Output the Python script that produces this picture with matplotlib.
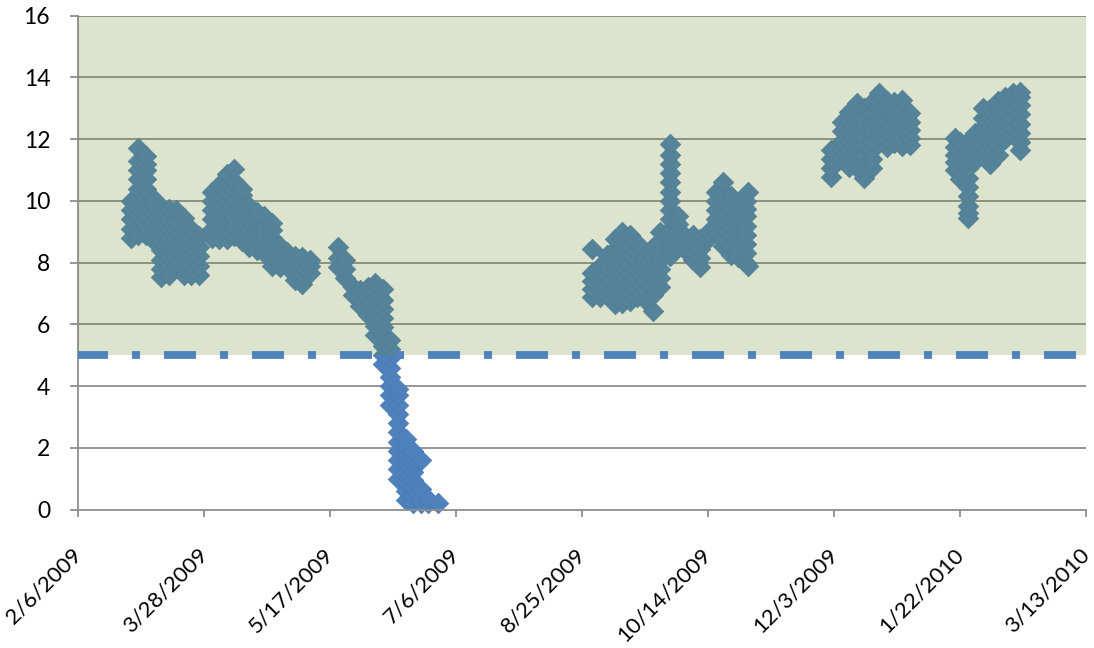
import numpy as np
import matplotlib
matplotlib.use("Agg")
import matplotlib.pyplot as plt

# ---- data -------------------------------------------------------------
obs_dates = [
    # Feb - May 2009
    "2009-02-27", "2009-03-02", "2009-03-05", "2009-03-08", "2009-03-11",
    "2009-03-14", "2009-03-17", "2009-03-20", "2009-03-23", "2009-03-26",
    "2009-03-31", "2009-04-03", "2009-04-06", "2009-04-09", "2009-04-12",
    "2009-04-15", "2009-04-18", "2009-04-21", "2009-04-24", "2009-04-27",
    "2009-04-30", "2009-05-03", "2009-05-06", "2009-05-09",
    # May - Jun 2009
    "2009-05-20", "2009-05-23", "2009-05-26", "2009-05-29", "2009-06-01",
    "2009-06-04", "2009-06-07", "2009-06-10", "2009-06-13", "2009-06-16",
    "2009-06-19", "2009-06-22", "2009-06-25", "2009-06-29",
    # Aug - Oct 2009
    "2009-08-29", "2009-09-01", "2009-09-04", "2009-09-07", "2009-09-10",
    "2009-09-13", "2009-09-16", "2009-09-19", "2009-09-22", "2009-09-25",
    "2009-09-29", "2009-10-02", "2009-10-05", "2009-10-08", "2009-10-11",
    "2009-10-14", "2009-10-17", "2009-10-20", "2009-10-23", "2009-10-26",
    "2009-10-29", "2009-10-30",
    # Dec 2009
    "2009-12-02", "2009-12-06", "2009-12-09", "2009-12-12", "2009-12-15",
    "2009-12-18", "2009-12-21", "2009-12-24", "2009-12-27", "2009-12-30",
    "2010-01-02",
    # Jan - Feb 2010
    "2010-01-20", "2010-01-22", "2010-01-25", "2010-01-28", "2010-01-31",
    "2010-02-03", "2010-02-06", "2010-02-09", "2010-02-12", "2010-02-15",
]

obs_values = [
    # Feb - May 2009
    [8.8, 9.1, 9.4, 9.7, 10.0],
    [8.9, 9.2, 9.5, 9.8, 10.1, 10.4, 10.7, 11.0, 11.3, 11.7],
    [8.9, 9.2, 9.5, 9.8, 10.1, 10.4, 10.7, 11.0, 11.2, 11.45],
    [8.7, 9.0, 9.3, 9.6, 9.9, 10.05],
    [7.52, 7.8, 8.1, 8.4, 8.7, 9.0, 9.3, 9.6, 9.8],
    [7.6, 7.9, 8.2, 8.5, 8.8, 9.1, 9.4, 9.75],
    [7.85, 8.15, 8.45, 8.75, 9.05, 9.35, 9.7],
    [7.6, 7.9, 8.2, 8.5, 8.8, 9.1, 9.45],
    [7.6, 7.9, 8.2, 8.5, 8.8, 9.1],
    [7.6, 7.9, 8.2, 8.5, 8.85],
    [8.8, 9.1, 9.4, 9.7, 10.0, 10.28],
    [8.75, 9.05, 9.35, 9.65, 9.95, 10.25, 10.5],
    [8.75, 9.05, 9.35, 9.65, 9.95, 10.25, 10.55, 10.86],
    [8.85, 9.15, 9.45, 9.75, 10.05, 10.35, 10.65, 11.02],
    [8.7, 9.0, 9.3, 9.6, 9.9, 10.2, 10.4],
    [8.5, 8.8, 9.1, 9.4, 9.65, 9.85],
    [8.4, 8.7, 9.0, 9.3, 9.65],
    [8.3, 8.6, 8.9, 9.2, 9.5],
    [7.9, 8.2, 8.5, 8.8, 9.05, 9.27],
    [7.85, 8.15, 8.55],
    [7.85, 8.1, 8.35],
    [7.45, 7.75, 8.0, 8.23],
    [7.32, 7.6, 7.9, 8.17],
    [7.66, 7.9, 8.08],
    # May - Jun 2009
    [7.85, 8.15, 8.5],
    [7.5, 7.8, 8.1],
    [6.95, 7.2],
    [6.6, 6.85, 7.1],
    [6.3, 6.6, 6.9, 7.2],
    [5.65, 5.95, 6.25, 6.55, 6.85, 7.1, 7.35],
    [4.7, 5.0, 5.3, 5.6, 5.9, 6.2, 6.5, 6.8, 7.15],
    [3.4, 3.7, 4.0, 4.3, 4.6, 4.9, 5.2, 5.5],
    [1.0, 1.3, 1.6, 1.9, 2.2, 2.5, 2.8, 3.1, 3.4, 3.7, 3.9],
    [0.3, 0.6, 0.9, 1.2, 1.5, 1.8, 2.05, 2.3],
    [0.2, 0.45, 0.7, 0.95, 1.2, 1.45, 1.7, 1.9],
    [0.2, 0.4, 0.65, 1.6],
    [0.2, 0.35],
    [0.22],
    # Aug - Oct 2009
    [6.9, 7.15, 7.4, 7.65, 8.43],
    [6.9, 7.2, 7.5, 7.75, 7.9],
    [6.95, 7.25, 7.55, 7.85, 8.25],
    [6.65, 6.95, 7.25, 7.55, 7.85, 8.15, 8.45, 8.75],
    [6.7, 7.0, 7.3, 7.6, 7.9, 8.2, 8.5, 8.75, 8.98],
    [6.77, 7.05, 7.35, 7.65, 7.95, 8.25, 8.55, 8.88],
    [6.87, 7.15, 7.45, 7.75, 8.05, 8.35, 8.65],
    [6.8, 7.1, 7.4, 7.7, 8.0, 8.15],
    [6.44, 6.95, 7.25, 7.55, 7.85, 8.15, 8.5],
    [7.2, 7.5, 7.8, 8.1, 8.4, 8.7, 9.0],
    [8.2, 8.5, 8.8, 9.1, 9.4, 9.7, 10.0, 10.3, 10.6, 10.9, 11.2, 11.5, 11.83],
    [8.72, 9.0, 9.25, 9.5],
    [8.4, 8.6, 8.85],
    [8.1, 8.35, 8.6, 8.9],
    [7.85, 8.15, 8.45, 8.75],
    [8.75, 9.0],
    [8.95, 9.1, 9.4, 9.7, 10.0, 10.28],
    [8.55, 8.8, 9.1, 9.4, 9.7, 10.0, 10.3, 10.6],
    [8.25, 8.55, 8.85, 9.15, 9.45, 9.75, 10.15],
    [8.17, 8.45, 8.75, 9.05, 9.35, 9.72],
    [8.0, 8.3, 8.6, 8.9, 9.2, 9.5, 9.75, 10.0],
    [7.9, 10.3],
    # Dec 2009
    [10.76, 11.05, 11.35, 11.65],
    [11.4, 11.65, 11.95, 12.25, 12.55],
    [11.1, 11.35, 11.65, 11.95, 12.25, 12.55, 12.87],
    [11.05, 11.35, 11.65, 11.95, 12.25, 12.55, 12.85, 13.17],
    [10.73, 10.95, 11.2, 11.5, 11.8, 12.1, 12.4, 12.7, 13.0],
    [11.05, 11.35, 11.65, 11.95, 12.25, 12.55, 12.85, 13.2],
    [12.1, 12.4, 12.7, 13.0, 13.25, 13.49],
    [11.74, 12.0, 12.3, 12.6, 12.9, 13.23],
    [11.87, 12.15, 12.45, 12.75, 13.0, 13.2],
    [11.77, 12.05, 12.35, 12.65, 12.95, 13.26],
    [11.8, 12.05, 12.3, 12.55, 12.85],
    # Jan - Feb 2010
    [11.0, 11.25, 11.5, 11.75, 12.03],
    [10.7, 11.0, 11.3, 11.6, 11.9],
    [9.43, 9.6, 9.85, 10.15, 10.45, 10.75, 11.05, 11.35, 11.65, 11.95],
    [11.3, 11.6, 11.9, 12.2],
    [11.5, 11.8, 12.1, 12.4, 12.7, 13.0],
    [11.2, 11.5, 11.8, 12.1, 12.4, 12.7, 12.97],
    [11.5, 11.8, 12.1, 12.4, 12.7, 13.0, 13.23],
    [12.0, 12.3, 12.6, 12.9, 13.15, 13.36],
    [12.13, 12.4, 12.7, 13.0, 13.25, 13.49],
    [11.64, 11.9, 12.2, 12.5, 12.8, 13.1, 13.35, 13.52],
]

threshold = 5
x_start = "2009-02-06"
x_end = "2010-03-13"
tick_step_days = 50
y_ticks = [0, 2, 4, 6, 8, 10, 12, 14, 16]

# ---- styling ----------------------------------------------------------
plt.rcParams["font.family"] = ["Lato", "DejaVu Sans"]
plt.rcParams["lines.scale_dashes"] = False

W, H = 1094, 648
fig = plt.figure(figsize=(W / 100, H / 100), dpi=100)
left, right, top, bottom = 78, 1086, 15.7, 509.5
ax = fig.add_axes([left / W, 1 - bottom / H, (right - left) / W, (bottom - top) / H])
ax.set_facecolor("white")

xs, ys = [], []
for d, vals in zip(obs_dates, obs_values):
    for v in vals:
        xs.append(np.datetime64(d))
        ys.append(v)
xs = np.array(xs, dtype="datetime64[D]")
ys = np.array(ys)

blue = "#4F81BD"
ax.scatter(xs, ys, marker="D", s=108, facecolor=blue, edgecolor="#4A7BB6",
           linewidths=0.6, zorder=2, clip_on=False)

# gridlines
for yv in y_ticks[1:]:
    ax.axhline(yv, color="#8E8E8E", lw=1.3, zorder=1)

# tinted zone above the threshold
ax.axhspan(threshold, y_ticks[-1], facecolor=(108 / 255, 139 / 255, 39 / 255),
           alpha=0.23, lw=0, zorder=3)

# threshold line
ax.axhline(threshold, color=blue, lw=5.6,
           linestyle=(1.44, (23.04, 17.28, 5.76, 17.28)), zorder=4)

t0 = np.datetime64(x_start)
t1 = np.datetime64(x_end)
ax.set_xlim(t0, t1)
ax.set_ylim(y_ticks[0], y_ticks[-1])

n_ticks = int((t1 - t0) / np.timedelta64(tick_step_days, "D")) + 1
xticks = [t0 + np.timedelta64(tick_step_days * k, "D") for k in range(n_ticks)]
ax.set_xticks(xticks)


def fmt_date(t):
    y, m, d = str(t).split("-")
    return f"{int(m)}/{int(d)}/{int(y)}"


ax.set_xticklabels([fmt_date(t) for t in xticks], rotation=45,
                   ha="right", va="center", rotation_mode="anchor")
ax.set_yticks(y_ticks)
ax.set_yticklabels([str(v) for v in y_ticks])

for s in ["top", "right"]:
    ax.spines[s].set_visible(False)
for s in ["left", "bottom"]:
    ax.spines[s].set_color("#8E8E8E")
    ax.spines[s].set_linewidth(1.3)

ax.tick_params(axis="x", direction="out", length=5, width=1.3, color="#8E8E8E",
               pad=25, labelsize=16, labelcolor="black")
ax.tick_params(axis="y", direction="out", length=6, width=1.3, color="#8E8E8E",
               pad=14, labelsize=16.5, labelcolor="black")

fig.savefig("out.png", dpi=100)
